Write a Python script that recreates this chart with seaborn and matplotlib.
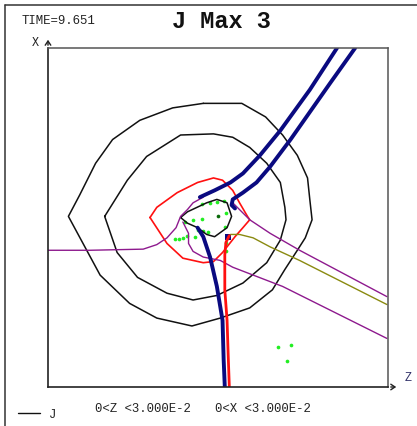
import matplotlib
matplotlib.use("Agg")
import matplotlib.pyplot as plt
import seaborn as sns
import pandas as pd
from matplotlib.lines import Line2D
from matplotlib.patches import FancyArrowPatch

sns.set_theme(style="white")
plt.rcParams["font.family"] = ["Liberation Mono", "DejaVu Sans Mono"]

# Curves in (Z, X) with both axes in units of 1e-2 (range 0 .. 3.000E-2)
outer_z = [1.37, 1.71, 1.92, 2.07, 2.20, 2.29, 2.31, 2.33, 2.27, 2.20, 2.09, 1.98,
           1.78, 1.52, 1.27, 0.96, 0.72, 0.46, 0.18, 0.28, 0.42, 0.57, 0.81, 1.10, 1.37]
outer_x = [2.51, 2.51, 2.39, 2.23, 2.05, 1.85, 1.66, 1.48, 1.32, 1.21, 1.04, 0.86,
           0.70, 0.61, 0.54, 0.61, 0.74, 0.99, 1.51, 1.70, 1.98, 2.19, 2.36, 2.47, 2.51]

inner_z = [0.50, 0.70, 0.87, 1.17, 1.46, 1.63, 1.78, 1.93, 2.05, 2.09, 2.10, 2.05,
           1.93, 1.72, 1.49, 1.28, 1.05, 0.79, 0.61, 0.50]
inner_x = [1.51, 1.83, 2.04, 2.23, 2.24, 2.21, 2.12, 1.98, 1.81, 1.59, 1.48, 1.30,
           1.10, 0.92, 0.81, 0.77, 0.83, 0.97, 1.19, 1.51]

core_z = [1.17, 1.23, 1.40, 1.49, 1.58, 1.62, 1.58, 1.47, 1.40, 1.32, 1.23, 1.17]
core_x = [1.50, 1.55, 1.63, 1.66, 1.63, 1.51, 1.41, 1.33, 1.35, 1.41, 1.45, 1.50]

red_loop_z = [0.90, 0.96, 1.14, 1.32, 1.46, 1.54, 1.63, 1.69, 1.76, 1.78, 1.72,
              1.65, 1.54, 1.46, 1.37, 1.19, 1.05, 0.90]
red_loop_x = [1.50, 1.59, 1.72, 1.81, 1.85, 1.83, 1.74, 1.63, 1.51, 1.48, 1.41,
              1.33, 1.19, 1.11, 1.10, 1.14, 1.27, 1.50]

red_leg_z = [1.60, 1.57, 1.56, 1.56, 1.58, 1.59, 1.60]
red_leg_x = [1.34, 1.28, 1.17, 0.86, 0.59, 0.28, 0.00]

navy_a_z = [2.55, 2.31, 2.05, 1.87, 1.72, 1.61, 1.47, 1.34]
navy_a_x = [3.00, 2.63, 2.27, 2.05, 1.89, 1.81, 1.74, 1.68]

navy_b_z = [1.32, 1.37, 1.43, 1.49, 1.54, 1.55, 1.56]
navy_b_x = [1.41, 1.33, 1.15, 0.89, 0.59, 0.24, 0.00]

navy_c_z = [2.71, 2.49, 2.14, 1.96, 1.84, 1.72, 1.63, 1.62, 1.65]
navy_c_x = [3.00, 2.69, 2.19, 1.95, 1.81, 1.72, 1.66, 1.61, 1.58]

purple_left_z = [0.00, 0.37, 0.84, 0.96, 1.05, 1.13, 1.17, 1.23, 1.28, 1.37]
purple_left_x = [1.21, 1.21, 1.22, 1.26, 1.32, 1.41, 1.51, 1.57, 1.63, 1.68]

purple_low_z = [1.19, 1.24, 1.24, 1.28, 1.37, 1.52, 1.63, 2.07, 2.99]
purple_low_x = [1.46, 1.36, 1.27, 1.20, 1.15, 1.12, 1.06, 0.89, 0.43]

purple_up_z = [1.63, 1.67, 1.78, 1.96, 2.22, 2.99]
purple_up_x = [1.63, 1.59, 1.48, 1.36, 1.21, 0.80]

olive_z = [1.61, 1.69, 1.81, 1.96, 2.22, 2.99]
olive_x = [1.35, 1.35, 1.32, 1.24, 1.12, 0.73]

dots_z = [1.36, 1.43, 1.49, 1.55, 1.57, 1.56, 1.28, 1.36, 1.21, 1.32, 1.37, 1.41,
          1.12, 1.16, 1.19, 1.23, 1.30, 1.57, 1.57, 2.03, 2.14, 2.11]
dots_x = [1.62, 1.63, 1.64, 1.65, 1.54, 1.42, 1.48, 1.49, 1.46, 1.39, 1.38, 1.37,
          1.31, 1.31, 1.32, 1.34, 1.33, 1.27, 1.20, 0.35, 0.37, 0.23]
dark_dot_z = [1.50]
dark_dot_x = [1.51]
navy_dot_z = [1.59]
navy_dot_x = [1.33]

W, H = 417, 426
fig = plt.figure(figsize=(W / 100, H / 100), dpi=100)
fig.patch.set_facecolor("white")
ax = fig.add_axes([48 / W, 1 - 387 / H, 340 / W, 339 / H])
ax.set_facecolor("white")


def curve(z, x, color, lw):
    df = pd.DataFrame({"z": z, "x": x})
    sns.lineplot(data=df, x="z", y="x", sort=False, estimator=None, color=color,
                 linewidth=lw, ax=ax, legend=False)


black = "#111111"
curve(outer_z, outer_x, black, 1.1)
curve(inner_z, inner_x, black, 1.1)
curve(core_z, core_x, black, 1.1)
curve(red_loop_z, red_loop_x, "#ff1010", 1.2)
curve(purple_left_z, purple_left_x, "#8e1a8e", 1.0)
curve(purple_low_z, purple_low_x, "#8e1a8e", 1.0)
curve(purple_up_z, purple_up_x, "#8e1a8e", 1.0)
curve(olive_z, olive_x, "#8a8a10", 1.0)
curve(red_leg_z, red_leg_x, "#ff1010", 2.0)
curve(navy_a_z, navy_a_x, "#0a0a80", 2.8)
curve(navy_b_z, navy_b_x, "#0a0a80", 2.8)
curve(navy_c_z, navy_c_x, "#0a0a80", 2.8)

sns.scatterplot(x=dots_z, y=dots_x, color="#22ee22", s=7, linewidth=0, ax=ax)
sns.scatterplot(x=dark_dot_z, y=dark_dot_x, color="#0a6a0a", s=7, linewidth=0, ax=ax)
sns.scatterplot(x=navy_dot_z, y=navy_dot_x, color="#0a0a80", s=14, marker="s",
                linewidth=0, ax=ax)

ax.set_xlim(0, 3)
ax.set_ylim(0, 3)
ax.set_xticks([])
ax.set_yticks([])
ax.set_xlabel("")
ax.set_ylabel("")
for side in ["top", "right"]:
    ax.spines[side].set_color("#555555")
    ax.spines[side].set_linewidth(1.1)
for side in ["left", "bottom"]:
    ax.spines[side].set_color("#222222")
    ax.spines[side].set_linewidth(1.2)


def fx(px):
    return px / W


def fy(py):
    return 1 - py / H


# outer frame
fig.add_artist(Line2D([fx(5), fx(417)], [fy(5), fy(5)], color="#333333", lw=1.1))
fig.add_artist(Line2D([fx(5), fx(5)], [fy(5), fy(426)], color="#333333", lw=1.1))

# axis arrows
fig.add_artist(FancyArrowPatch(
    (fx(48), fy(48)), (fx(48), fy(37)), transform=fig.transFigure,
    arrowstyle="->,head_length=3,head_width=2", color="#222222", lw=1.0))
fig.add_artist(FancyArrowPatch(
    (fx(388), fy(387)), (fx(399), fy(387)), transform=fig.transFigure,
    arrowstyle="->,head_length=3,head_width=2", color="#222222", lw=1.0))

fig.text(fx(35), fy(43), "X", fontsize=8.5, ha="center", va="center", color="#222222")
fig.text(fx(408), fy(378), "Z", fontsize=8.5, ha="center", va="center", color="#303068")
fig.text(fx(22), fy(21), "TIME=9.651", fontsize=8.9, ha="left", va="center",
         color="#222222")
fig.text(fx(221), fy(22), "J Max 3", fontsize=17, fontweight="bold", ha="center",
         va="center", color="#111111")
fig.text(fx(95), fy(409), "0<Z <3.000E-2", fontsize=8.9, ha="left", va="center",
         color="#222222")
fig.text(fx(215), fy(409), "0<X <3.000E-2", fontsize=8.9, ha="left", va="center",
         color="#222222")
fig.add_artist(Line2D([fx(18), fx(40)], [fy(413), fy(413)], color="#111111", lw=1.0))
fig.text(fx(53), fy(415), "J", fontsize=8.9, ha="center", va="center", color="#222222")

fig.savefig("out.png", dpi=100, facecolor="white")
